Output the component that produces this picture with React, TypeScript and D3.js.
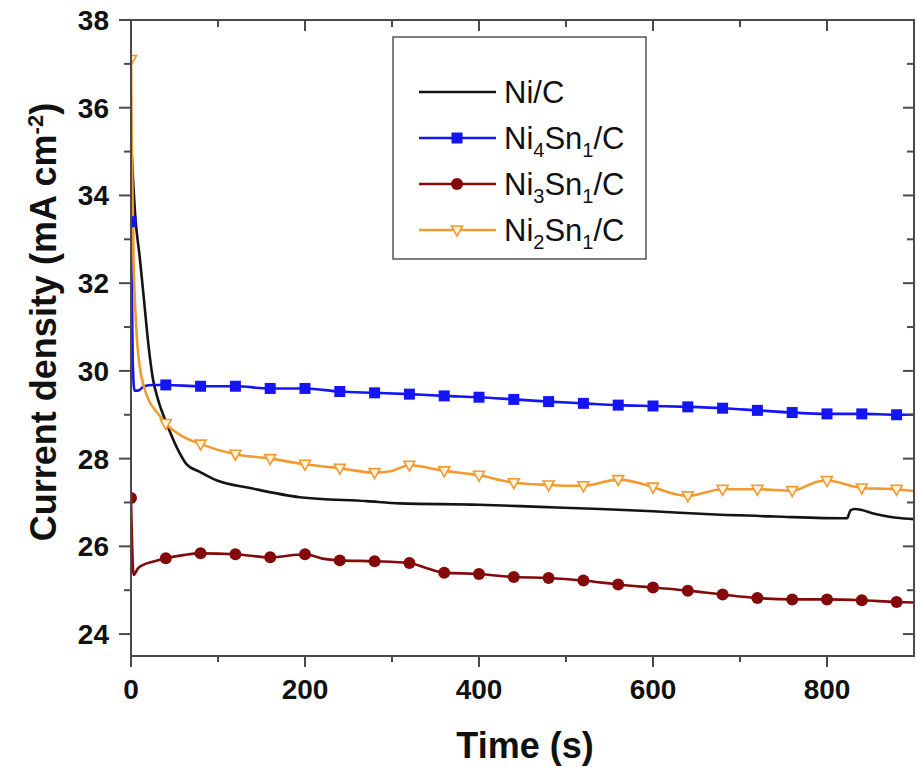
import React from "react";
import * as d3 from "d3";

// ---- data ----
const T_NI = [0, 2, 5, 10, 15, 20, 25, 31, 41, 53, 64, 79, 99, 137, 194, 271, 309, 400, 470, 539, 600, 666, 740, 823, 827, 832, 857, 880, 900];
const V_NI = [35.3, 34.5, 33.5, 32.6, 31.6, 30.6, 29.84, 29.35, 28.8, 28.24, 27.87, 27.7, 27.5, 27.33, 27.12, 27.03, 26.98, 26.95, 26.9, 26.85, 26.8, 26.73, 26.68, 26.64, 26.82, 26.85, 26.73, 26.65, 26.62];

const T_NI4 = [0, 2, 4, 8, 15, 25, 40, 80, 120, 160, 200, 240, 280, 320, 360, 400, 440, 480, 520, 560, 600, 640, 680, 720, 760, 800, 840, 880, 900];
const V_NI4 = [33.4, 30.2, 29.55, 29.55, 29.65, 29.68, 29.68, 29.65, 29.65, 29.6, 29.6, 29.53, 29.5, 29.47, 29.43, 29.4, 29.35, 29.3, 29.26, 29.22, 29.2, 29.18, 29.15, 29.1, 29.05, 29.02, 29.02, 29.0, 29.0];

const T_NI3 = [0, 3, 8, 14, 25, 40, 60, 80, 120, 160, 200, 220, 240, 280, 320, 340, 360, 400, 440, 480, 520, 560, 600, 640, 680, 720, 760, 800, 840, 880, 900];
const V_NI3 = [27.1, 25.35, 25.5, 25.58, 25.65, 25.73, 25.8, 25.84, 25.82, 25.75, 25.82, 25.72, 25.68, 25.66, 25.62, 25.5, 25.4, 25.37, 25.3, 25.28, 25.22, 25.13, 25.06, 24.99, 24.9, 24.82, 24.79, 24.79, 24.77, 24.73, 24.72];

const T_NI2 = [0, 1, 3, 6, 10, 14, 20, 30, 40, 60, 80, 120, 160, 200, 240, 280, 300, 320, 360, 400, 440, 480, 520, 560, 600, 620, 640, 680, 720, 760, 790, 800, 840, 880, 900];
const V_NI2 = [37.1, 35.0, 32.5, 31.0, 30.1, 29.7, 29.35, 29.05, 28.8, 28.5, 28.33, 28.1, 28.0, 27.87, 27.78, 27.68, 27.72, 27.85, 27.72, 27.62, 27.45, 27.4, 27.38, 27.52, 27.35, 27.22, 27.15, 27.3, 27.3, 27.27, 27.48, 27.5, 27.33, 27.3, 27.26];

const SERIES_NAMES = ["Ni/C", "Ni4Sn1/C", "Ni3Sn1/C", "Ni2Sn1/C"];
const X_MAJOR = [0, 200, 400, 600, 800];
const X_MINOR = [100, 300, 500, 700];
const Y_MAJOR = [24, 26, 28, 30, 32, 34, 36, 38];
const Y_MINOR = [25, 27, 29, 31, 33, 35, 37];

const COLORS = { ni: "#141414", ni4: "#1414f5", ni3: "#840a0a", ni2: "#f29a30" };

export default function App() {
  const L = 131, R = 914, TOP = 20, B = 656;
  const x = d3.scaleLinear().domain([0, 900]).range([L, R]);
  const y = d3.scaleLinear().domain([23.5, 38]).range([B, TOP]);
  const line = d3
    .line<[number, number]>()
    .x((d) => x(d[0]))
    .y((d) => y(d[1]))
    .curve(d3.curveMonotoneX);
  const pts = (t: number[], v: number[]) => t.map((tt, i) => [tt, v[i]] as [number, number]);
  const mk = (t: number[], v: number[]) => pts(t, v).filter((p) => p[0] % 40 === 0);

  const axisColor = "#4a4a4a";
  const font = "'Liberation Sans', Arial, sans-serif";

  const square = (cx: number, cy: number, k: string) => (
    <rect key={k} x={cx - 5.5} y={cy - 5.5} width={11} height={11} fill={COLORS.ni4} />
  );
  const circle = (cx: number, cy: number, k: string) => (
    <circle key={k} cx={cx} cy={cy} r={6} fill={COLORS.ni3} />
  );
  const tri = (cx: number, cy: number, k: string) => (
    <path
      key={k}
      d={`M${cx - 5.5},${cy - 4} L${cx + 5.5},${cy - 4} L${cx},${cy + 6} Z`}
      fill="#fff3dc"
      stroke={COLORS.ni2}
      strokeWidth={1.6}
    />
  );

  const legendRows = [92, 138, 184, 230];
  const lx0 = 419, lx1 = 496, lmx = 457, ltx = 504;

  const sub = (base: string, a: string, b: string) => (
    <>
      {base}
      <tspan dy={8} fontSize={20}>{a}</tspan>
      <tspan dy={-8}>Sn</tspan>
      <tspan dy={8} fontSize={20}>{b}</tspan>
      <tspan dy={-8}>/C</tspan>
    </>
  );

  return (
    <svg
      width={917}
      height={767}
      style={{ position: "absolute", left: 0, top: 0, background: "#fff" }}
      fontFamily={font}
    >
      <defs>
        <clipPath id="plot">
          <rect x={L} y={TOP} width={R - L} height={B - TOP} />
        </clipPath>
      </defs>

      {/* series */}
      <g clipPath="url(#plot)">
        <path d={line(pts(T_NI, V_NI)) || ""} fill="none" stroke={COLORS.ni} strokeWidth={2.6} />
        <path d={line(pts(T_NI4, V_NI4)) || ""} fill="none" stroke={COLORS.ni4} strokeWidth={2.6} />
        <path d={line(pts(T_NI3, V_NI3)) || ""} fill="none" stroke={COLORS.ni3} strokeWidth={2.6} />
        <path d={line(pts(T_NI2, V_NI2)) || ""} fill="none" stroke={COLORS.ni2} strokeWidth={2.6} />
        {mk(T_NI4, V_NI4).map((p, i) => square(x(p[0]), y(p[1]), "s" + i))}
        {mk(T_NI3, V_NI3).map((p, i) => circle(x(p[0]), y(p[1]), "c" + i))}
        {mk(T_NI2, V_NI2).map((p, i) => tri(x(p[0]), y(p[1]), "t" + i))}
      </g>

      {/* frame */}
      <rect x={L} y={TOP} width={R - L} height={B - TOP} fill="none" stroke={axisColor} strokeWidth={2} />

      {/* x ticks */}
      {X_MAJOR.map((v) => (
        <g key={"xm" + v}>
          <line x1={x(v)} x2={x(v)} y1={B} y2={B + 11} stroke={axisColor} strokeWidth={2} />
          <line x1={x(v)} x2={x(v)} y1={TOP} y2={TOP + 11} stroke={axisColor} strokeWidth={2} />
          <text x={x(v)} y={699} textAnchor="middle" fontSize={28} fontWeight="bold" fill="#111">
            {v}
          </text>
        </g>
      ))}
      {X_MINOR.map((v) => (
        <g key={"xn" + v}>
          <line x1={x(v)} x2={x(v)} y1={B} y2={B + 6} stroke={axisColor} strokeWidth={2} />
          <line x1={x(v)} x2={x(v)} y1={TOP} y2={TOP + 7} stroke={axisColor} strokeWidth={2} />
        </g>
      ))}

      {/* y ticks */}
      {Y_MAJOR.map((v) => (
        <g key={"ym" + v}>
          <line x1={L - 12} x2={L} y1={y(v)} y2={y(v)} stroke={axisColor} strokeWidth={2} />
          <line x1={R - 11} x2={R} y1={y(v)} y2={y(v)} stroke={axisColor} strokeWidth={2} />
          <text x={109} y={y(v) + 10} textAnchor="end" fontSize={28} fontWeight="bold" fill="#111">
            {v}
          </text>
        </g>
      ))}
      {Y_MINOR.map((v) => (
        <g key={"yn" + v}>
          <line x1={L - 7} x2={L} y1={y(v)} y2={y(v)} stroke={axisColor} strokeWidth={2} />
          <line x1={R - 7} x2={R} y1={y(v)} y2={y(v)} stroke={axisColor} strokeWidth={2} />
        </g>
      ))}

      {/* axis titles */}
      <text x={525} y={758} textAnchor="middle" fontSize={36} fontWeight="bold" fill="#111">
        Time (s)
      </text>
      <text
        transform="translate(56,322) rotate(-90)"
        textAnchor="middle"
        fontSize={36}
        fontWeight="bold"
        fill="#111"
      >
        Current density (mA cm<tspan dy={-13} fontSize={22}>-2</tspan>
        <tspan dy={13}>)</tspan>
      </text>

      {/* legend */}
      <rect x={393} y={37} width={253} height={222} fill="#fff" stroke="#555" strokeWidth={1.5} />
      <line x1={lx0} x2={lx1} y1={legendRows[0]} y2={legendRows[0]} stroke={COLORS.ni} strokeWidth={2.6} />
      <line x1={lx0} x2={lx1} y1={legendRows[1]} y2={legendRows[1]} stroke={COLORS.ni4} strokeWidth={2.6} />
      {square(lmx, legendRows[1], "ls")}
      <line x1={lx0} x2={lx1} y1={legendRows[2]} y2={legendRows[2]} stroke={COLORS.ni3} strokeWidth={2.6} />
      {circle(lmx, legendRows[2], "lc")}
      <line x1={lx0} x2={lx1} y1={legendRows[3]} y2={legendRows[3]} stroke={COLORS.ni2} strokeWidth={2.6} />
      {tri(lmx, legendRows[3], "lt")}
      <g fontSize={31} fill="#111">
        <text x={ltx} y={legendRows[0] + 11}>{SERIES_NAMES[0]}</text>
        <text x={ltx} y={legendRows[1] + 11}>{sub("Ni", "4", "1")}</text>
        <text x={ltx} y={legendRows[2] + 11}>{sub("Ni", "3", "1")}</text>
        <text x={ltx} y={legendRows[3] + 11}>{sub("Ni", "2", "1")}</text>
      </g>
    </svg>
  );
}
